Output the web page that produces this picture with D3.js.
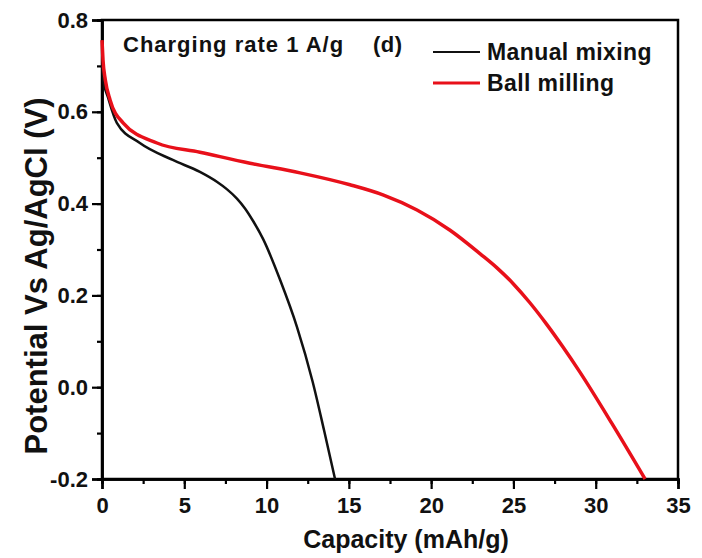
<!DOCTYPE html>
<html>
<head>
<meta charset="utf-8">
<script src="https://cdn.jsdelivr.net/npm/d3@7"></script>
<style>
body { margin: 0; background: #fff; }
text { font-family: "Liberation Sans", Arial, sans-serif; font-weight: bold; }
</style>
</head>
<body>
<div id="chart"></div>
<script>
// data
var series_names = ["Manual mixing", "Ball milling"]
var series_colors = ["#111111", "#e8101a"]

var manual_x = [0, 0.1, 0.36, 0.9, 2.3, 4.3, 5.95, 7.0, 7.6, 8.2, 8.7, 9.2, 9.8, 10.82, 11.85, 12.8, 13.5, 14.16]
var manual_y = [0.70, 0.665, 0.632, 0.576, 0.532, 0.495, 0.469, 0.447, 0.431, 0.411, 0.389, 0.361, 0.322, 0.234, 0.131, 0.012, -0.095, -0.2]

var ball_x = [0, 0.06, 0.2, 0.49, 1.28, 3.34, 5.95, 8.99, 12.03, 15.07, 17.07, 19.14, 21.15, 23.0, 24.0, 25.0, 26.0, 27.0, 28.0, 29.0, 31.0, 33.0]
var ball_y = [0.756, 0.713, 0.67, 0.626, 0.576, 0.532, 0.512, 0.488, 0.467, 0.441, 0.419, 0.386, 0.342, 0.29, 0.26, 0.225, 0.184, 0.138, 0.088, 0.035, -0.08, -0.2]

var x_ticks = [0, 5, 10, 15, 20, 25, 30, 35]
var y_ticks = [-0.2, 0.0, 0.2, 0.4, 0.6, 0.8]

var width = 702
var height = 558
// plot box (m_top etc, "top" is taken by window.top)
var m_left = 102, m_right = 678, m_top = 20, m_bottom = 479

var svg = d3.select("#chart").append("svg")
    .attr("width", width)
    .attr("height", height)

var x = d3.scaleLinear().domain([0, 35]).range([m_left, m_right])
var y = d3.scaleLinear().domain([-0.2, 0.8]).range([m_bottom, m_top])

// frame
svg.append("rect")
    .attr("x", m_left).attr("y", m_top)
    .attr("width", m_right - m_left).attr("height", m_bottom - m_top)
    .attr("fill", "none").attr("stroke", "#000").attr("stroke-width", 2.5)

// axes (minor then major ticks)
var xAxis = svg.append("g").attr("transform", "translate(0," + m_bottom + ")")
xAxis.append("g").call(d3.axisBottom(x).tickValues(d3.range(0, 35.1, 2.5)).tickSize(5).tickFormat(""))
xAxis.append("g").call(d3.axisBottom(x).tickValues(x_ticks).tickSize(10).tickPadding(8).tickFormat(d3.format("d")))

var yAxis = svg.append("g").attr("transform", "translate(" + m_left + ",0)")
yAxis.append("g").call(d3.axisLeft(y).tickValues(d3.range(-0.2, 0.81, 0.1)).tickSize(5).tickFormat(""))
yAxis.append("g").call(d3.axisLeft(y).tickValues(y_ticks).tickSize(10).tickPadding(4)
    .tickFormat(function(d){ return d.toFixed(1) }))   // plain hyphen, not unicode minus

svg.selectAll(".domain").attr("stroke-width", 2.5)
svg.selectAll(".tick line").attr("stroke-width", 2.2)
svg.selectAll(".tick text").attr("font-size", 22).attr("fill", "#111")
    .attr("font-family", "Liberation Sans, Arial, sans-serif")

// curves
var all_series = [
    manual_x.map(function(d, i){ return [d, manual_y[i]] }),
    ball_x.map(function(d, i){ return [d, ball_y[i]] })
]
var line = d3.line()
    .x(function(d){ return x(d[0]) })
    .y(function(d){ return y(d[1]) })
    .curve(d3.curveMonotoneX)

svg.selectAll(".curve")
    .data(all_series)
    .enter().append("path")
    .attr("class", "curve")
    .attr("d", line)
    .attr("fill", "none")
    .attr("stroke", function(d, i){ return series_colors[i] })
    .attr("stroke-width", function(d, i){ return i == 1 ? 3.5 : 2.5 })

// labels
svg.append("text")
    .attr("x", 123).attr("y", 52)
    .attr("font-size", 22).attr("letter-spacing", 1.0).attr("fill", "#111")
    .text("Charging rate 1 A/g")
svg.append("text")
    .attr("x", 373).attr("y", 52)
    .attr("font-size", 22).attr("letter-spacing", 0.5).attr("fill", "#111")
    .text("(d)")

// legend
var legend = svg.selectAll(".legend")
    .data(series_names)
    .enter().append("g")
    .attr("class", "legend")
    .attr("transform", function(d, i){ return "translate(433," + (52 + i * 31) + ")" })
legend.append("line")
    .attr("x1", 0).attr("x2", 47)
    .attr("stroke", function(d, i){ return series_colors[i] })
    .attr("stroke-width", function(d, i){ return i == 1 ? 3 : 2.2 })
legend.append("text")
    .attr("x", 54).attr("y", 8)
    .attr("font-size", 23).attr("letter-spacing", 0.4).attr("fill", "#111")
    .text(function(d){ return d })

// axis titles
svg.append("text")
    .attr("x", 406).attr("y", 548)
    .attr("text-anchor", "middle")
    .attr("font-size", 25).attr("fill", "#111")
    .text("Capacity (mAh/g)")
svg.append("text")
    .attr("transform", "translate(47,276) rotate(-90)")
    .attr("text-anchor", "middle")
    .attr("font-size", 31).attr("fill", "#111")
    .text("Potential Vs Ag/AgCl (V)")
</script>
</body>
</html>
